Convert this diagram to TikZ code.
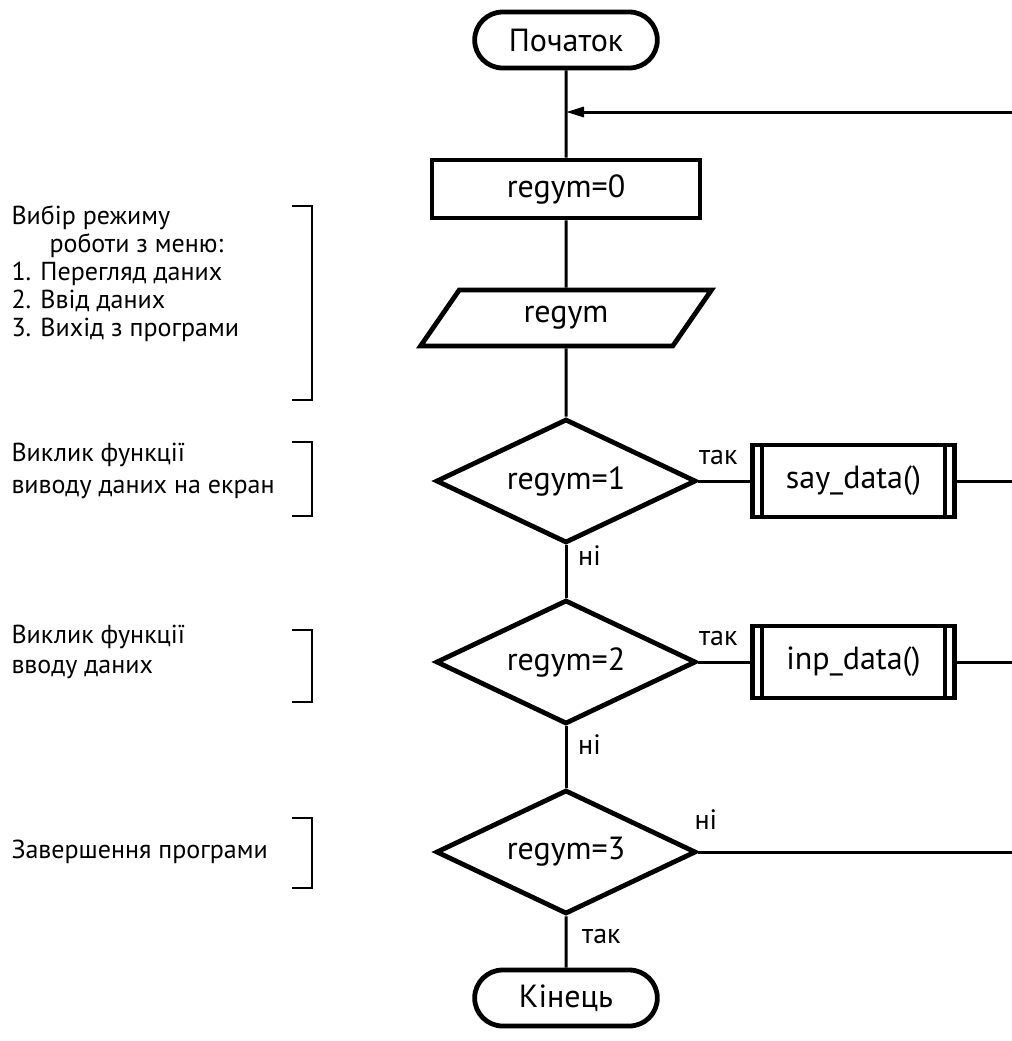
\documentclass[tikz,border=0pt]{standalone}
\usepackage{fontspec}
\setmainfont{PT Sans}
\usetikzlibrary{arrows.meta, shapes.geometric, shapes.misc}

\begin{document}
\begin{tikzpicture}[x=10pt, y=-10pt,
  >={Triangle[length=9pt, width=5pt]}, line width=1.5pt,
  blk/.style={draw, line width=2.4pt, font=\fontsize{16}{18}\selectfont},
  term/.style={blk, rounded rectangle, minimum width=98pt, minimum height=28pt},
  proc/.style={blk, rectangle, minimum width=134pt, minimum height=29pt},
  io/.style={blk, trapezium, trapezium left angle=64, trapezium right angle=116,
             trapezium stretches=true, minimum width=146pt, minimum height=28pt},
  cond/.style={blk, diamond, aspect=2.1, minimum width=130pt, minimum height=62pt, inner sep=0pt},
  subr/.style={blk, rectangle, minimum width=101pt, minimum height=36pt},
  lbl/.style={font=\fontsize{14}{16}\selectfont},
  note/.style={align=left, anchor=west, inner sep=0pt, font=\fontsize{13}{14}\selectfont},
  brk/.style={line width=1.3pt}]

  \useasboundingbox (0,0) rectangle (50.6,52.05);

  % main column
  \node[term] (start) at (28.3,2.0) {Початок};
  \coordinate (join) at (28.3,5.6);
  \node[proc] (init) at (28.3,9.45) {regym=0};
  \node[io] (menu) at (28.3,15.9) {regym};
  \node[cond] (c1) at (28.3,24.05) {regym=1};
  \node[cond] (c2) at (28.3,33.1) {regym=2};
  \node[cond] (c3) at (28.3,42.6) {regym=3};
  \node[term] (stop) at (28.3,49.9) {Кінець};

  % subroutines
  \node[subr] (say) at (42.675,24.05) {say\_data()};
  \node[subr] (inp) at (42.675,33.1) {inp\_data()};
  \foreach \b in {say, inp} {
    \draw[line width=2pt] ([xshift=6pt]\b.north west) -- ([xshift=6pt]\b.south west);
    \draw[line width=2pt] ([xshift=-6pt]\b.north east) -- ([xshift=-6pt]\b.south east);
  }

  % loop back (right edge)
  \coordinate (back) at (50.6,5.6);
  \coordinate (r1) at (50.6,24.05);
  \coordinate (r2) at (50.6,33.1);
  \coordinate (r3) at (50.6,42.6);

  \draw (start) -- (init);
  \draw[->] (back) -- (join);
  \draw (init) -- (menu);
  \draw (menu) -- (c1);
  \draw (c1) -- (c2) node[pos=0.2, right=2pt, lbl]{ні};
  \draw (c2) -- (c3) node[pos=0.3, right=2pt, lbl]{ні};
  \draw (c3) -- (stop) node[pos=0.4, right=4pt, lbl]{так};
  \draw (c1) -- (say) node[midway, above=4pt, xshift=-3pt, lbl]{так};
  \draw (c2) -- (inp) node[midway, above=4pt, xshift=-3pt, lbl]{так};
  \draw (say) -- (r1);
  \draw (inp) -- (r2);
  \draw (c3) -- (r3) node[pos=0, anchor=south west, xshift=-6pt, yshift=7pt, lbl]{ні};

  % comments on the left
  \node[note] (n1) at (0.5,13.7)
    {Вибір режиму\\\hspace*{19pt}роботи з меню:\\1. Перегляд даних\\2. Ввід даних\\3. Вихід з програми};
  \node[note, font=\fontsize{13}{16}\selectfont] (n2) at (0.5,23.55)
    {Виклик функції\\виводу даних на екран};
  \node[note, font=\fontsize{13}{15}\selectfont] (n3) at (0.5,32.6)
    {Виклик функції\\вводу даних};
  \node[note] (n4) at (0.5,42.6) {Завершення програми};

  \foreach \t/\b in {10.3/20.0, 22.1/25.8, 31.5/35.1, 40.9/44.4}
    \draw[brk] (14.6,\t) -- (15.6,\t) -- (15.6,\b) -- (14.6,\b);
\end{tikzpicture}
\end{document}
